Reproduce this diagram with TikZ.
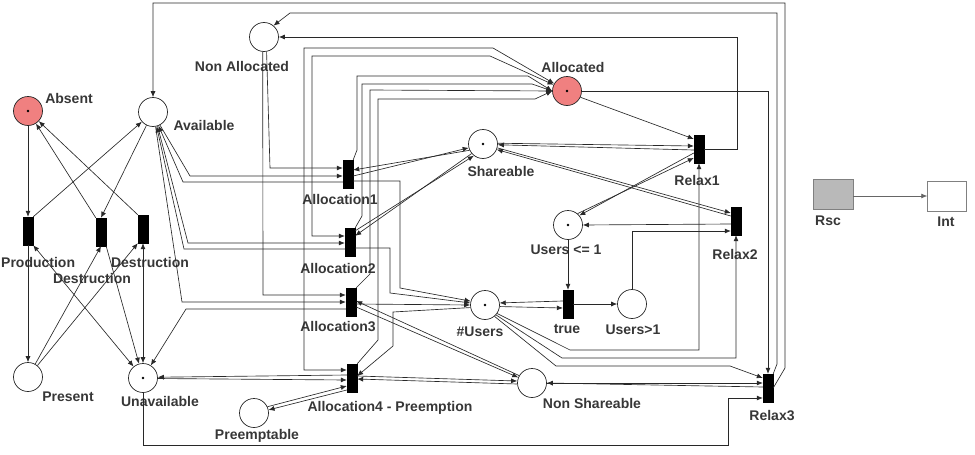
\documentclass[tikz,border=0pt]{standalone}
\usepackage{fontspec}
\setmainfont{Liberation Sans}
\usetikzlibrary{arrows.meta,calc}
\definecolor{absred}{RGB}{240,128,128}
\definecolor{lncol}{RGB}{40,40,40}
\definecolor{txtcol}{RGB}{55,55,55}
\begin{document}
\begin{tikzpicture}[x=1pt,y=-1pt,
  place/.style={circle,draw=lncol,fill=white,line width=0.7pt,minimum size=29pt,inner sep=0pt},
  tok/.style={path picture={\fill[black] (path picture bounding box.center) circle (1.4pt);}},
  trans/.style={rectangle,fill=black,draw=black,minimum width=10pt,minimum height=28pt,inner sep=0pt},
  lbl/.style={font=\fontsize{14}{16}\selectfont\bfseries,text=txtcol,inner sep=0pt},
  pnarc/.style={draw=lncol,line width=0.65pt,-{Latex[length=6pt,width=5pt]}},
  pnarcb/.style={draw=lncol,line width=0.65pt,{Latex[length=6pt,width=5pt]}-{Latex[length=6pt,width=5pt]}},
  ]
\useasboundingbox (0,0) rectangle (975,455);
% places
\node[place,fill=absred,tok] (absent) at (28,111) {};
\node[place] (avail) at (153,112) {};
\node[place] (nalloc) at (264,37) {};
\node[place,fill=absred,tok] (alloc) at (567,91) {};
\node[place,tok] (share) at (483,144) {};
\node[place,tok] (u1) at (568,225) {};
\node[place,tok] (users) at (485,305) {};
\node[place] (u2) at (632,304) {};
\node[place] (nshare) at (532,383) {};
\node[place] (present) at (28,377) {};
\node[place,tok] (unavail) at (143,378) {};
\node[place] (preempt) at (254,413) {};
% transitions
\node[trans] (prod) at (28,231) {};
\node[trans] (destrM) at (101,232) {};
\node[trans] (destrR) at (143,229) {};
\node[trans] (a1) at (348,174) {};
\node[trans] (a2) at (350,242) {};
\node[trans] (a3) at (351,302) {};
\node[trans] (a4) at (352,378) {};
\node[trans] (r1) at (699,149) {};
\node[trans] (r2) at (736,221) {};
\node[trans] (r3) at (768,388) {};
\node[trans] (tr) at (568,304) {};
% Rsc / Int
\node[rectangle,draw=gray,fill=gray!55,minimum width=40pt,minimum height=30pt,inner sep=0pt] (rsc) at (833,194) {};
\node[rectangle,draw=gray,fill=white,minimum width=39pt,minimum height=30pt,inner sep=0pt] (int) at (947,196) {};
\draw[line width=0.7pt,-{Latex[length=6pt,width=5pt]},color=gray!80!black] (rsc.east |- int.west) -- (int.west);
% labels
\node[lbl] (lAbsent) at (69,98) {Absent};
\node[lbl] (lAvail) at (204,125) {Available};
\node[lbl] (lNalloc) at (242,66) {Non Allocated};
\node[lbl] (lAlloc) at (573,67) {Allocated};
\node[lbl] (lShare) at (501,171) {Shareable};
\node[lbl] (lA1) at (340,199) {Allocation1};
\node[lbl] (lA2) at (338,268) {Allocation2};
\node[lbl] (lA3) at (338,327) {Allocation3};
\node[lbl] (lA4) at (390,408) {Allocation4 - Preemption};
\node[lbl] (lPre) at (257,436) {Preemptable};
\node[lbl] (lUnav) at (160,401) {Unavailable};
\node[lbl] (lPres) at (68,397) {Present};
\node[lbl,anchor=west] (lProd) at (1,262) {Production};
\node[lbl] (lDM) at (92,278) {Destruction};
\node[lbl] (lDR) at (150,262) {Destruction};
\node[lbl] (lUsers) at (480,332) {\#Users};
\node[lbl] (lTrue) at (567,329) {true};
\node[lbl] (lU2) at (633,330) {Users>1};
\node[lbl] (lU1) at (566,250) {Users <= 1};
\node[lbl] (lR1) at (697,180) {Relax1};
\node[lbl] (lR2) at (735,254) {Relax2};
\node[lbl] (lR3) at (772,416) {Relax3};
\node[lbl] (lNS) at (592,403) {Non Shareable};
\node[lbl] (lRsc) at (828,221) {Rsc};
\node[lbl] (lInt) at (946,222) {Int};
% ---- arcs: left part
\draw[pnarc] (absent) -- (prod);
\draw[pnarc] (prod) -- (present);
\draw[pnarc] (prod.north east) -- (avail);
\draw[pnarc] (avail) -- (destrM.north);
\draw[pnarc] (destrM.north west) -- (absent);
\draw[pnarc] (destrR.north west) -- (absent);
\draw[pnarc] (present) -- (destrM.south);
\draw[pnarc] (present) -- (destrR.south west);
\draw[pnarc] (destrM.south east) -- (unavail);
\draw[pnarcb] (destrR) -- (unavail);
\draw[pnarcb] (prod.south east) -- (unavail);
% Available <-> allocations
\draw[pnarc] (avail.-62) -- (190,176) -- (a1.west |- 0,176);
\draw[pnarc] (a1.west |- 0,182) -- (183,182) -- (avail.-68);
\draw[pnarc] (avail.-72) -- (188,243) -- (a2.west |- 0,243);
\draw[pnarc] (a2.west |- 0,249) -- (184,249) -- (avail.-76);
\draw[pnarc] (avail.-80) -- (182,302) -- (a3.west |- 0,302);
\draw[pnarc] (a3.west |- 0,309) -- (186,309) -- (unavail);
% Non allocated
\draw[pnarc] (nalloc.-80) -- (270,168) -- (a1.west |- 0,168);
\draw[pnarc] (nalloc.-95) -- (263,295) -- (a3.west |- 0,295);
\draw[pnarc] (r1.east) -- (737,149) -- (737,37) -- (nalloc.east);
\draw[pnarc] (r3.north east) -- (777,364) -- (777,13) -- (290,13) -- (nalloc.50);
\draw[pnarc] (r3.east) -- (785,368) -- (785,3) -- (avail.north |- 0,3) -- (avail.north);
\draw[pnarc] (alloc.east) -- (r3.north |- alloc.east) -- (r3.north);
% Allocated bundle
\draw[pnarc] (a1.north east) -- (357,150) -- (357,76) -- (528,76) -- (alloc.west);
\draw[pnarc] (a2.north east) -- (362,216) -- (362,84) -- (532,84) -- (alloc.west);
\draw[pnarc] (a3.north east) -- (370,274) -- (370,90) -- (alloc.west);
\draw[pnarc] (a4.north east) -- (378,340) -- (378,99) -- (535,99) -- (alloc.west);
\draw[pnarcb] (a2.west |- 0,236) -- (312,236) -- (312,56) -- (490,56) -- (alloc.155);
\draw[pnarcb] (a4.west |- 0,370) -- (304,370) -- (304,48) -- (493,48) -- (alloc.150);
\draw[pnarc] (alloc.-25) -- (r1.west |- 0,139);
% Shareable
\draw[pnarc] ([yshift=-2pt]a1.east) -- (share.195);
\draw[pnarc] (share.205) -- ([yshift=4pt]a1.east);
\draw[pnarc] ([yshift=-3pt]a2.north east) -- (share.232);
\draw[pnarc] (share.220) -- ([yshift=-8pt]a2.north east);
\draw[pnarc] (share.3) -- ([yshift=3pt]r1.west);
\draw[pnarc] ([yshift=-1pt]r1.west) -- (share.-3);
\draw[pnarc] (share.-15) -- ([yshift=8pt]r2.west);
\draw[pnarc] ([yshift=5pt]r2.west) -- (share.-22);
% Users <= 1
\draw[pnarc] ([yshift=-4pt]r1.west) -- (u1.40);
\draw[pnarc] (u1.50) -- ([yshift=-9pt]r1.west);
\draw[pnarc] ([yshift=-3pt]r2.west) -- (u1.east);
\draw[pnarc] (u2.north) -- (u2.north |- 0,231) -- (r2.west |- 0,231);
\draw[pnarc] (u1) -- (tr);
\draw[pnarc] (tr) -- (u2);
\draw[pnarc] ([yshift=3pt]tr.west) -- (users.8);
\draw[pnarc] (users.-6) -- ([yshift=-4pt]tr.west);
% #Users
\draw[pnarc] (a1.east |- 0,181) -- (400,181) -- (400,288) -- (users.165);
\draw[pnarc] (a2.east |- 0,248) -- (390,248) -- (390,293) -- (users.172);
\draw[pnarc] (a3.east |- 0,304) -- (users.west);
\draw[pnarc] (users.190) -- (393,312) -- (393,346) -- (a4.east |- 0,376);
\draw[pnarc] (users.-35) -- (570,350) -- (r1.south |- 0,350) -- (r1.south);
\draw[pnarc] (users.-42) -- (562,358) -- (r2.south |- 0,358) -- (r2.south);
\draw[pnarc] (users.-50) -- (556,366) -- (730,366) -- ([yshift=10pt]r3.west);
% Non shareable
\draw[pnarc] ([yshift=-5pt]a3.east) -- (nshare.158);
\draw[pnarc] (nshare.150) -- ([yshift=1pt]a3.east);
\draw[pnarc] ([yshift=2pt]a4.east) -- ([yshift=2pt]nshare.west);
\draw[pnarc] ([yshift=-1pt]nshare.west) -- ([yshift=-1pt]a4.east);
\draw[pnarc] (nshare.east) -- ([yshift=5pt]r3.west);
\draw[pnarc] ([yshift=1pt]r3.west) -- (nshare.east);
\draw[pnarc] (unavail.south) -- (unavail.south |- 0,445) -- (728,445) -- (728,398) -- (r3.west |- 0,398);
% Unavailable / Preemptable <-> Allocation4
\draw[pnarc] (a4.west |- 0,375) -- (unavail.3);
\draw[pnarc] (unavail.-2) -- (a4.west |- 0,380);
\draw[pnarc] (preempt.25) -- (a4.west |- 0,386);
\draw[pnarc] (a4.west |- 0,390) -- (preempt.12);
\end{tikzpicture}
\end{document}
